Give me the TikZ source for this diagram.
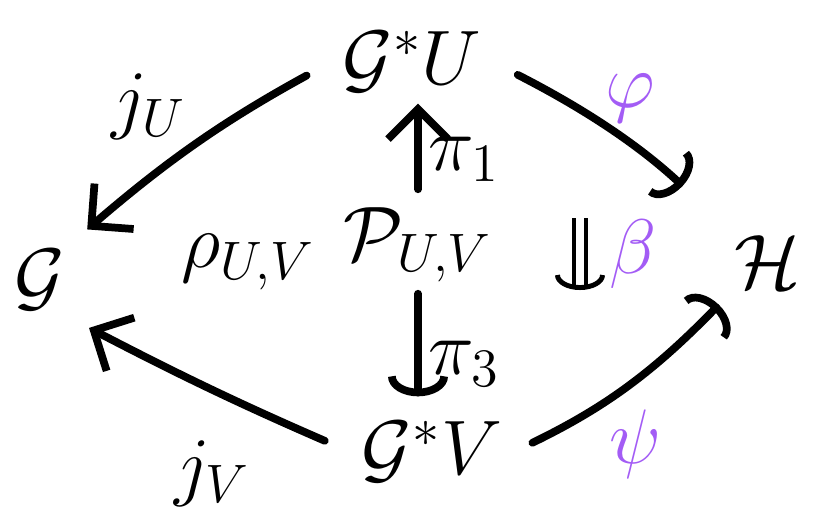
\RequirePackage{fix-cm}
\documentclass[tikz,border=0pt]{standalone}
\usepackage{amsmath}
\usepackage{tikz}
\usetikzlibrary{arrows.meta,positioning}

\definecolor{phicol}{RGB}{163,92,245}

\begin{document}
\begin{tikzpicture}[
    x=0.1mm, y=-0.1mm,
    every node/.style={font=\fontsize{22}{26}\selectfont},
    obj/.style={inner sep=3pt},
    tag/.style={inner sep=2pt},
    mor/.style={-{Straight Barb[length=3mm, width=6mm]}, line width=2.2pt, line cap=round},
    incl/.style={-{Arc Barb[length=2mm, width=6mm]}, line width=2.2pt, line cap=round},
    cell/.style={-{Arc Barb[length=1.5mm, width=5mm]}, double, double distance=2pt, line width=1.4pt},
    purp/.style={text=phicol}
]
\useasboundingbox (0,0) rectangle (818,509);
\node[obj] (GU) at (412,62) {$\mathcal{G}^{*}U$};
\node[obj] (G) at (40,280) {$\mathcal{G}$};
\node[obj] (H) at (768,262) {$\mathcal{H}$};
\node[obj] (GV) at (432,452) {$\mathcal{G}^{*}V$};
\node[obj] (P) at (418,245) {$\mathcal{P}_{U,V}$};
\node[obj] (rho) at (248,262) {$\rho_{U,V}$};
\coordinate (b1) at (580,218);
\coordinate (b2) at (580,290);

% the two inclusions into G
\draw[mor, shorten <=8pt, shorten >=4pt] (GU.west) to[bend right=6] node[tag, above left=0mm and -1mm, pos=0.55]{$j_U$} (G.north east);
\draw[mor, shorten <=8pt, shorten >=4pt] (GV.west) to[bend left=2] node[tag, below=4mm, pos=0.5]{$j_V$} (G.south east);
% maps to H
\draw[incl, shorten <=8pt, shorten >=16pt] (GU.east) to[bend left=8] node[tag, purp, above right=0mm and -2mm, pos=0.5]{$\varphi$} (H.north west);
\draw[incl, shorten <=6pt, shorten >=2pt] (GV.east) to[bend right=10] node[tag, purp, below=2mm, pos=0.55]{$\psi$} (H.south west);
% projections
\draw[mor, shorten <=2pt] (P.north) -- node[tag, right, pos=0.4]{$\pi_1$} (P.north |- GU.south);
\draw[incl, shorten >=4pt] (P.south) -- node[tag, right, pos=0.6]{$\pi_3$} (P.south |- GV.north);
% 2-cell
\draw[cell] (b1) -- node[tag, purp, right=2mm]{$\beta$} (b2);
\end{tikzpicture}
\end{document}
